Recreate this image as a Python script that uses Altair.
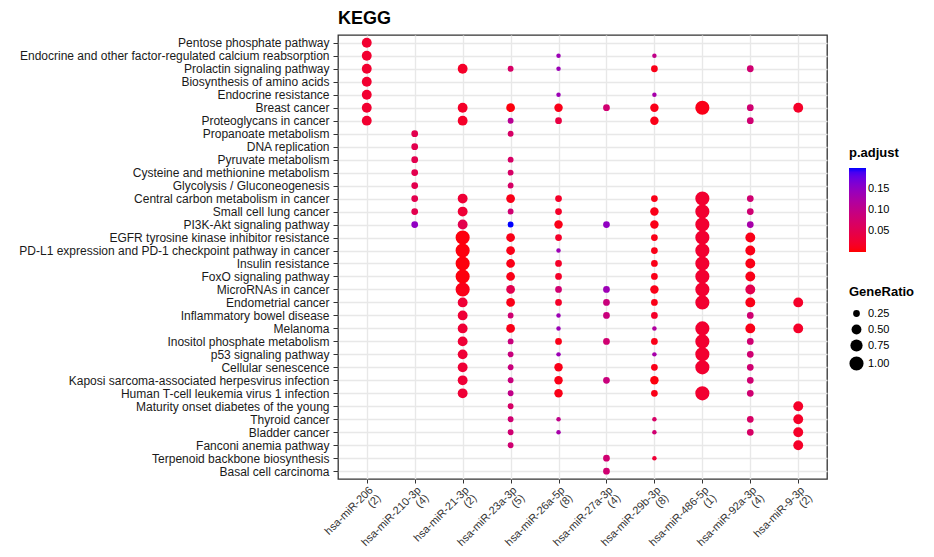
import altair as alt
import pandas as pd

pathways = [
    "Pentose phosphate pathway",
    "Endocrine and other factor-regulated calcium reabsorption",
    "Prolactin signaling pathway",
    "Biosynthesis of amino acids",
    "Endocrine resistance",
    "Breast cancer",
    "Proteoglycans in cancer",
    "Propanoate metabolism",
    "DNA replication",
    "Pyruvate metabolism",
    "Cysteine and methionine metabolism",
    "Glycolysis / Gluconeogenesis",
    "Central carbon metabolism in cancer",
    "Small cell lung cancer",
    "PI3K-Akt signaling pathway",
    "EGFR tyrosine kinase inhibitor resistance",
    "PD-L1 expression and PD-1 checkpoint pathway in cancer",
    "Insulin resistance",
    "FoxO signaling pathway",
    "MicroRNAs in cancer",
    "Endometrial cancer",
    "Inflammatory bowel disease",
    "Melanoma",
    "Inositol phosphate metabolism",
    "p53 signaling pathway",
    "Cellular senescence",
    "Kaposi sarcoma-associated herpesvirus infection",
    "Human T-cell leukemia virus 1 infection",
    "Maturity onset diabetes of the young",
    "Thyroid cancer",
    "Bladder cancer",
    "Fanconi anemia pathway",
    "Terpenoid backbone biosynthesis",
    "Basal cell carcinoma",
]

mir_names = ["hsa-miR-206", "hsa-miR-210-3p", "hsa-miR-21-3p", "hsa-miR-23a-3p",
             "hsa-miR-26a-5p", "hsa-miR-27a-3p", "hsa-miR-29b-3p", "hsa-miR-486-5p",
             "hsa-miR-92a-3p", "hsa-miR-9-3p"]
mir_counts = [2, 4, 2, 5, 8, 4, 8, 1, 4, 2]

# (pathway row number, GeneRatio, p.adjust) for each miRNA
m206 = [(1, .5, .025), (2, .5, .025), (3, .5, .025), (4, .5, .025), (5, .5, .025),
        (6, .5, .025), (7, .5, .025)]
m210 = [(8, .25, .05), (9, .25, .05), (10, .25, .05), (11, .25, .05), (12, .25, .05),
        (13, .25, .05), (14, .25, .05), (15, .25, .15)]
m21 = [(3, .5, .02), (6, .5, .02), (7, .5, .02), (13, .5, .03), (14, .5, .03),
       (15, .5, .05), (16, 1, .005), (17, 1, .005), (18, 1, .005), (19, 1, .005),
       (20, 1, .01), (21, .5, .03), (22, .5, .03), (23, .5, .03), (24, .5, .03),
       (25, .5, .03), (26, .5, .03), (27, .5, .03), (28, .5, .03)]
m23a = [(3, .2, .07), (6, .4, .005), (7, .2, .11), (8, .2, .07), (10, .2, .07),
        (11, .2, .07), (12, .2, .07), (13, .4, .01), (14, .2, .08), (15, .2, .2),
        (16, .4, .01), (17, .4, .01), (18, .4, .01), (19, .4, .01), (20, .4, .05),
        (21, .4, .01), (22, .2, .08), (23, .4, .01), (24, .2, .09), (25, .2, .09),
        (26, .2, .09), (27, .2, .09), (28, .2, .1), (29, .2, .07), (30, .2, .08),
        (31, .2, .08), (32, .2, .08)]
m26a = [(2, .125, .14), (3, .125, .14), (5, .125, .14), (6, .375, .01), (7, .25, .04),
        (13, .25, .02), (14, .25, .02), (15, .375, .01), (16, .25, .02), (17, .125, .14),
        (18, .25, .02), (19, .25, .02), (20, .25, .08), (21, .25, .02), (22, .125, .14),
        (23, .125, .14), (24, .25, .01), (25, .125, .14), (26, .375, .01), (27, .375, .01),
        (28, .375, .01), (30, .125, .1), (31, .125, .13)]
m27a = [(6, .25, .08), (15, .25, .15), (20, .25, .14), (21, .25, .09), (22, .25, .09),
        (24, .25, .08), (27, .25, .09), (33, .25, .08), (34, .25, .08)]
m29b = [(2, .125, .1), (3, .25, .01), (5, .125, .13), (6, .375, .01), (7, .375, .01),
        (13, .25, .01), (14, .375, .01), (15, .375, .01), (16, .25, .01), (17, .25, .01),
        (18, .25, .01), (19, .25, .01), (20, .375, .01), (21, .25, .01), (22, .25, .02),
        (23, .125, .12), (24, .25, .01), (25, .125, .13), (26, .25, .01), (27, .375, .005),
        (28, .25, .01), (30, .125, .07), (31, .125, .08), (33, .125, .03)]
m486 = [(6, 1, .01), (13, 1, .025), (14, 1, .025), (15, 1, .025), (16, 1, .025),
        (17, 1, .025), (18, 1, .025), (19, 1, .025), (20, 1, .025), (21, 1, .025),
        (23, 1, .025), (24, 1, .025), (25, 1, .025), (26, 1, .025), (28, 1, .025)]
m92a = [(3, .25, .08), (6, .25, .08), (7, .25, .08), (13, .25, .08), (14, .25, .08),
        (15, .25, .13), (16, .5, .01), (17, .5, .01), (18, .5, .01), (19, .5, .01),
        (20, .5, .05), (21, .5, .01), (22, .25, .08), (23, .5, .01), (24, .25, .08),
        (25, .25, .08), (26, .25, .08), (27, .25, .08), (28, .25, .08), (30, .25, .07),
        (31, .25, .07)]
m9 = [(6, .5, .02), (21, .5, .02), (23, .5, .02), (29, .5, .02), (30, .5, .02),
      (31, .5, .02), (32, .5, .02)]

columns = [m206, m210, m21, m23a, m26a, m27a, m29b, m486, m92a, m9]
mir_labels = [f"{n}|({c})" for n, c in zip(mir_names, mir_counts)]

rows = []
for lab, col in zip(mir_labels, columns):
    for r, gr, p in col:
        rows.append({"mir": lab, "pathway": pathways[r - 1], "GeneRatio": gr, "padj": p})
df = pd.DataFrame(rows)

FONT = "Liberation Sans"

chart = alt.Chart(df).mark_circle(opacity=1).encode(
    x=alt.X("mir:N", sort=mir_labels, title=None,
            scale=alt.Scale(type="point", padding=0.6),
            axis=alt.Axis(labelAngle=315, labelAlign="right", labelBaseline="top",
                          labelExpr="split(datum.value, '|')", labelFontSize=11,
                          labelColor="#333333", labelPadding=1, labelLineHeight=11,
                          labelLimit=0,
                          grid=True, gridColor="#e8e8e8", gridWidth=1.4,
                          tickColor="#333333", tickSize=4, domain=False)),
    y=alt.Y("pathway:N", sort=pathways, title=None,
            scale=alt.Scale(type="point", padding=0.6),
            axis=alt.Axis(labelFontSize=12, labelColor="#1a1a1a", labelPadding=4,
                          labelLimit=0,
                          grid=True, gridColor="#e8e8e8", gridWidth=1.4,
                          tickColor="#333333", tickSize=5, domain=False)),
    color=alt.Color("padj:Q", title="p.adjust",
                    scale=alt.Scale(domain=[0.001, 0.2], range=["#ff0000", "#0000ff"],
                                    interpolate="lab"),
                    legend=alt.Legend(values=[0.05, 0.10, 0.15], format=".2f",
                                      gradientLength=84, gradientThickness=17,
                                      orient="none", legendX=511, legendY=112,
                                      titleFontSize=13, titleFontWeight="bold",
                                      labelFontSize=11, titlePadding=8,
                                      gradientStrokeWidth=0)),
    size=alt.Size("GeneRatio:Q", title="GeneRatio",
                  scale=alt.Scale(domain=[0.125, 1.0], range=[20, 200]),
                  legend=alt.Legend(values=[0.25, 0.5, 0.75, 1.0], format=".2f",
                                    orient="none", legendX=511, legendY=251,
                                    titleFontSize=13, titleFontWeight="bold",
                                    labelFontSize=11, symbolFillColor="black",
                                    symbolStrokeWidth=0, titlePadding=9,
                                    rowPadding=4, symbolType="circle")),
).properties(
    width=489, height=444,
    padding={"left": 10, "top": 2, "right": 5, "bottom": 5},
    title=alt.TitleParams("KEGG", anchor="start", frame="group", fontSize=18,
                          fontWeight="bold", font=FONT, offset=7),
).configure_view(
    stroke="#333333", strokeWidth=1.3
).configure_axis(
    labelFont=FONT
).configure_legend(
    labelFont=FONT, titleFont=FONT
)

chart.save("out.html", embed_options={"renderer": "svg", "actions": False})
